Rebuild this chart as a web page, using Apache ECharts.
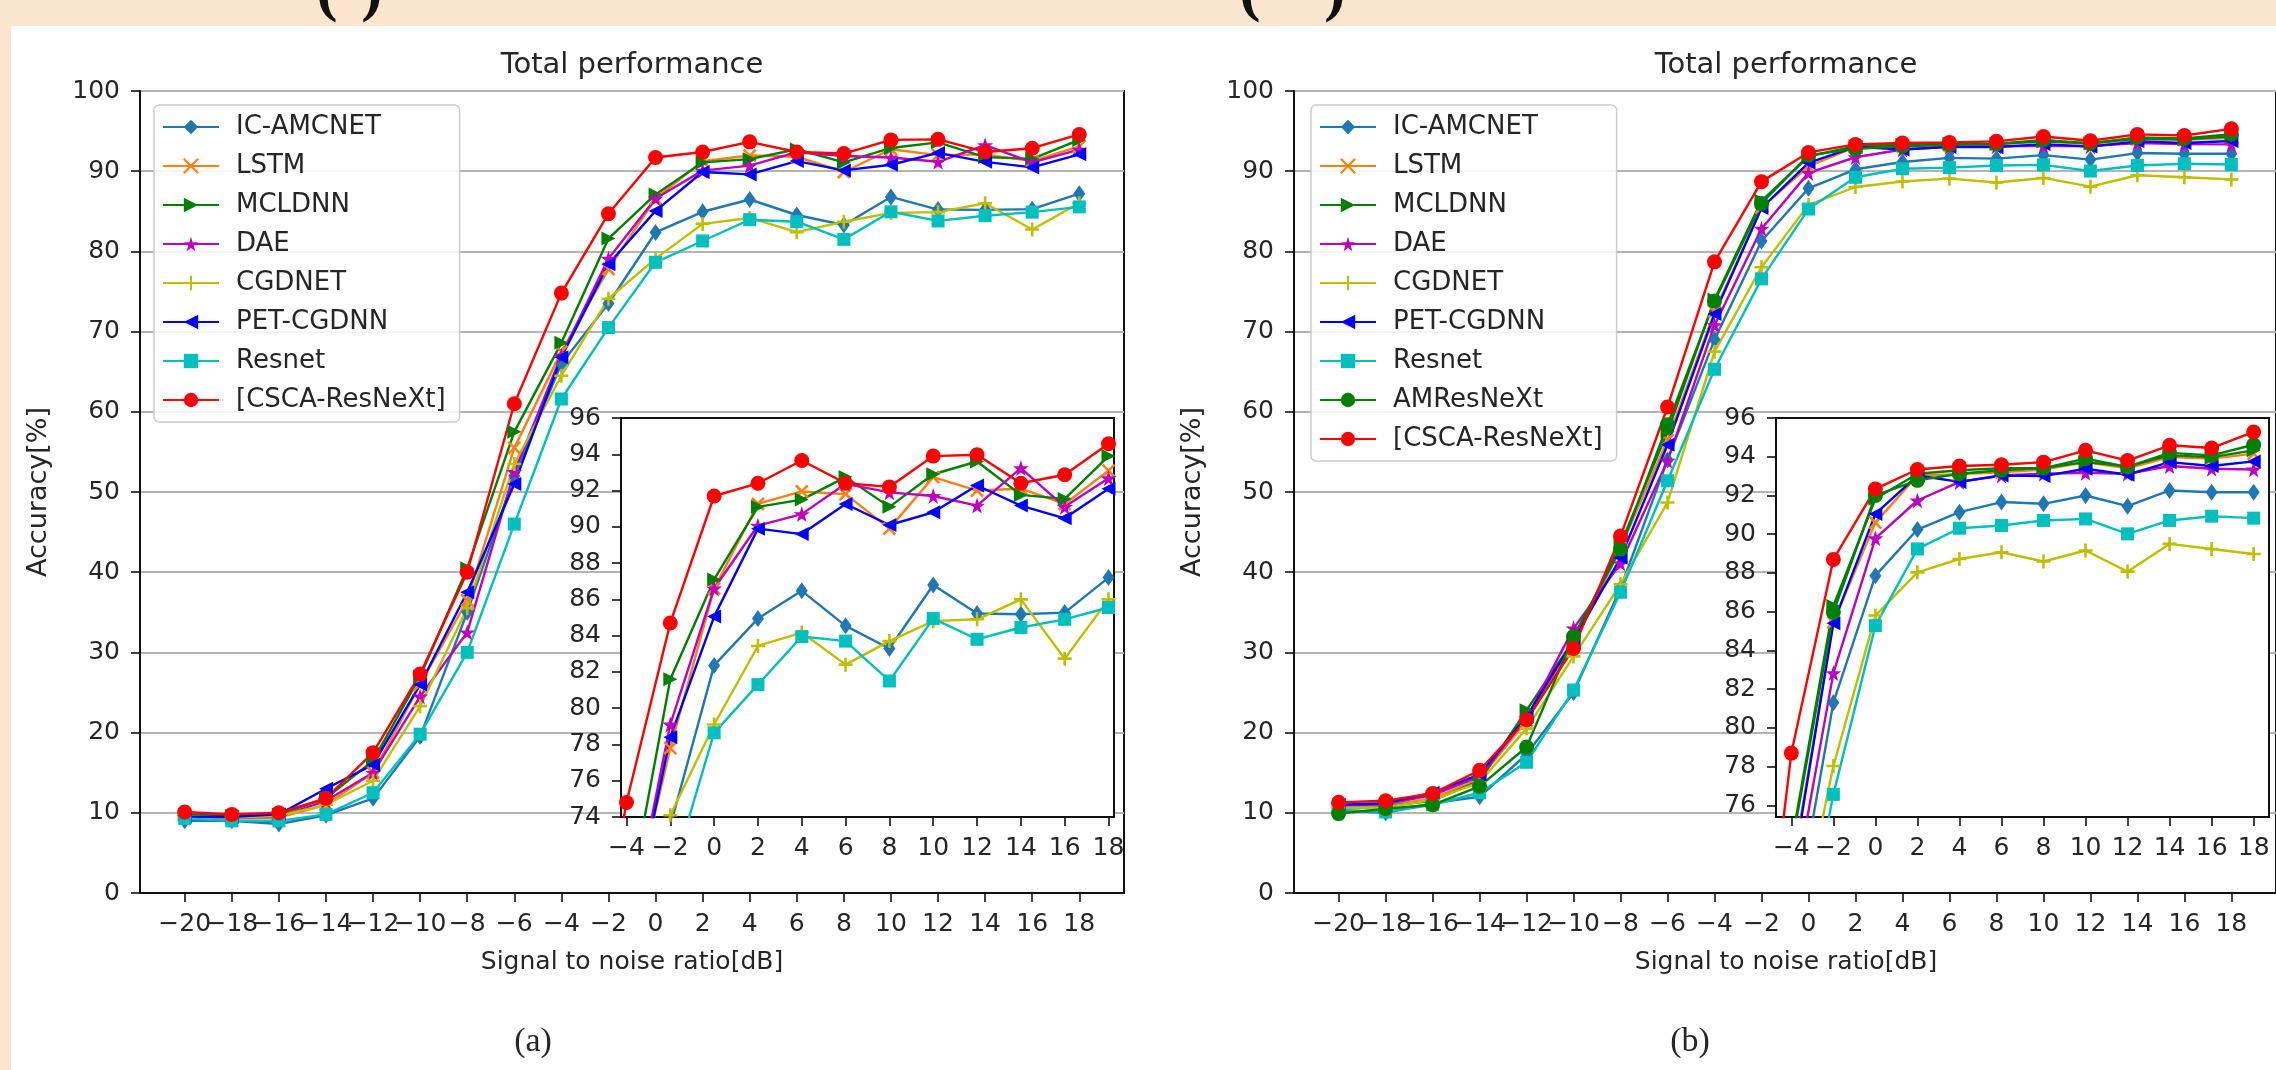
<!DOCTYPE html>
<html>
<head>
<meta charset="utf-8">
<script src="https://cdn.jsdelivr.net/npm/echarts@6/dist/echarts.min.js"></script>
<style>
  html, body { margin: 0; padding: 0; background: #fff; }
  #main { width: 2276px; height: 1070px; }
</style>
</head>
<body>
<div id="main"></div>
<script>
// 横轴：信噪比
const snr = [-20, -18, -16, -14, -12, -10, -8, -6, -4, -2, 0, 2, 4, 6, 8, 10, 12, 14, 16, 18];
const insetSnrTicks = [-4, -2, 0, 2, 4, 6, 8, 10, 12, 14, 16, 18];
const insetYTicksA = [74, 76, 78, 80, 82, 84, 86, 88, 90, 92, 94, 96];
const insetYTicksB = [76, 78, 80, 82, 84, 86, 88, 90, 92, 94, 96];

// (a) 各模型准确率
const icAmcnetA = [9.0, 9.0, 8.6, 9.7, 11.8, 19.5, 35.0, 52.0, 66.0, 73.5, 82.36, 84.94, 86.47, 84.54, 83.29, 86.79, 85.22, 85.18, 85.27, 87.2];
const lstmA     = [9.6, 9.3, 9.4, 11.0, 15.0, 26.0, 36.5, 55.5, 67.5, 77.8, 86.6, 91.26, 91.95, 91.8, 89.9, 92.74, 92.0, 92.1, 91.26, 93.1];
const mcldnnA   = [9.8, 9.6, 9.8, 11.8, 16.5, 27.0, 40.5, 57.5, 68.6, 81.6, 87.1, 91.1, 91.5, 92.74, 91.1, 92.9, 93.6, 91.76, 91.54, 93.9];
const daeA      = [9.5, 9.4, 9.5, 11.5, 15.0, 24.5, 32.5, 52.5, 67.0, 79.1, 86.6, 90.07, 90.7, 92.37, 91.9, 91.7, 91.17, 93.24, 91.1, 92.68];
const cgdnetA   = [9.6, 9.4, 9.6, 11.0, 14.0, 23.3, 35.5, 53.5, 64.5, 74.1, 79.1, 83.43, 84.17, 82.4, 83.7, 84.8, 84.9, 86.0, 82.73, 86.0];
const petA      = [9.5, 9.5, 9.8, 13.0, 16.0, 26.0, 37.5, 51.0, 66.8, 78.4, 85.05, 89.9, 89.6, 91.26, 90.1, 90.8, 92.28, 91.17, 90.47, 92.1];
const resnetA   = [9.3, 9.0, 9.0, 9.8, 12.5, 19.8, 30.0, 46.0, 61.6, 70.5, 78.64, 81.3, 83.95, 83.7, 81.5, 84.94, 83.8, 84.45, 84.9, 85.55];
const cscaA     = [10.1, 9.8, 10.0, 11.8, 17.5, 27.3, 40.0, 61.0, 74.8, 84.7, 91.7, 92.4, 93.66, 92.4, 92.2, 93.9, 93.97, 92.4, 92.87, 94.58];

// (b) 各模型准确率
const icAmcnetB = [10.3, 10.0, 11.2, 12.0, 17.3, 25.0, 38.0, 54.0, 69.0, 81.3, 87.86, 90.24, 91.14, 91.66, 91.57, 92.0, 91.45, 92.26, 92.17, 92.17];
const lstmB     = [10.8, 10.9, 11.8, 14.2, 21.5, 31.0, 43.0, 56.5, 72.5, 85.45, 90.6, 93.03, 93.1, 93.2, 93.34, 93.72, 93.4, 93.98, 93.9, 94.16];
const mcldnnB   = [10.5, 10.8, 11.5, 14.0, 22.8, 31.5, 43.5, 57.5, 74.0, 86.3, 91.83, 93.12, 93.3, 93.41, 93.41, 93.72, 93.5, 94.07, 93.98, 94.33];
const daeB      = [10.9, 11.1, 12.2, 14.5, 21.8, 33.0, 41.1, 53.9, 70.8, 82.83, 89.79, 91.74, 92.7, 93.03, 93.12, 93.17, 93.12, 93.52, 93.38, 93.34];
const cgdnetB   = [10.6, 10.7, 11.6, 13.8, 20.5, 29.5, 38.5, 48.7, 67.5, 78.03, 85.8, 88.03, 88.72, 89.07, 88.59, 89.16, 88.07, 89.5, 89.24, 88.98];
const petB      = [11.0, 11.2, 12.5, 14.8, 22.0, 31.5, 41.8, 55.9, 72.2, 85.4, 91.05, 93.03, 92.7, 93.03, 93.0, 93.38, 93.07, 93.72, 93.52, 93.76];
const resnetB   = [10.4, 10.1, 11.0, 12.5, 16.3, 25.3, 37.5, 51.4, 65.3, 76.57, 85.28, 89.24, 90.31, 90.45, 90.71, 90.79, 90.02, 90.71, 90.93, 90.83];
const amresB    = [9.9, 10.5, 11.0, 13.3, 18.2, 32.0, 42.9, 58.4, 73.8, 85.97, 92.0, 92.78, 93.12, 93.3, 93.41, 93.9, 93.47, 94.2, 94.07, 94.62];
const cscaB     = [11.3, 11.5, 12.4, 15.3, 21.6, 30.5, 44.5, 60.6, 78.7, 88.7, 92.34, 93.34, 93.52, 93.59, 93.72, 94.33, 93.8, 94.59, 94.45, 95.28];

const FONT = 'DejaVu Sans';
const TXT = '#262626';

// 线型/标记（仿 matplotlib）
const styles = {
  'IC-AMCNET': { color: '#1f77b4', symbol: 'path://M50,0 L92,50 L50,100 L8,50 Z', size: [12, 17] },
  'LSTM': { color: '#ff7f0e', symbol: 'path://M0,0 L100,100 M100,0 L0,100', size: 12, stroke: true },
  'MCLDNN': { color: '#008000', symbol: 'path://M0,0 L100,50 L0,100 Z', size: 14 },
  'DAE': { color: '#bf00bf', symbol: 'path://M50,0 L61,35 L98,35 L68,57 L79,92 L50,71 L21,92 L32,57 L2,35 L39,35 Z', size: 16 },
  'CGDNET': { color: '#bfbf00', symbol: 'path://M50,0 L50,100 M0,50 L100,50', size: 14, stroke: true },
  'PET-CGDNN': { color: '#0000ff', symbol: 'path://M100,0 L0,50 L100,100 Z', size: 14 },
  'Resnet': { color: '#00bfbf', symbol: 'rect', size: 13 },
  'AMResNeXt': { color: '#008000', symbol: 'circle', size: 15 },
  '[CSCA-ResNeXt]': { color: '#ff0000', symbol: 'circle', size: 15 }
};

const panelA = [
  ['IC-AMCNET', icAmcnetA], ['LSTM', lstmA], ['MCLDNN', mcldnnA], ['DAE', daeA],
  ['CGDNET', cgdnetA], ['PET-CGDNN', petA], ['Resnet', resnetA], ['[CSCA-ResNeXt]', cscaA]
];
const panelB = [
  ['IC-AMCNET', icAmcnetB], ['LSTM', lstmB], ['MCLDNN', mcldnnB], ['DAE', daeB],
  ['CGDNET', cgdnetB], ['PET-CGDNN', petB], ['Resnet', resnetB], ['AMResNeXt', amresB],
  ['[CSCA-ResNeXt]', cscaB]
];

const fmt = v => String(v).replace('-', '\u2212');

// 主图刻度标签拆成两组交替显示，避免 ECharts 因重叠而隐藏
const snrEven = snr.filter((v, i) => i % 2 === 0);
const snrOdd = snr.filter((v, i) => i % 2 === 1);

function lineSeries(name, vals, axisIndex, z) {
  const st = styles[name];
  return {
    name: name, type: 'line', xAxisIndex: axisIndex, yAxisIndex: axisIndex, z: z,
    data: snr.map((x, i) => [x, vals[i]]),
    symbol: st.symbol, symbolSize: st.size,
    lineStyle: { color: st.color, width: 2.4 },
    itemStyle: { color: st.color, borderColor: st.color, borderWidth: st.stroke ? 2.6 : 0 },
    emphasis: { disabled: true },
    clip: true
  };
}

function xAxisOf(gi, min, max, ticks, labels, z, margin) {
  return {
    type: 'value', gridIndex: gi, min: min, max: max, z: z, position: 'bottom',
    axisLine: { show: true, onZero: false, lineStyle: { color: '#111', width: 2 } },
    axisTick: { show: true, length: 9, customValues: ticks, lineStyle: { color: '#111', width: 1.6 } },
    axisLabel: {
      customValues: labels, formatter: fmt, margin: margin, fontSize: 25, color: TXT, fontFamily: FONT,
      showMinLabel: true, showMaxLabel: true, hideOverlap: false
    },
    splitLine: { show: false }
  };
}

// 只画标签的辅助横轴
function xLabelAxis(gi, min, max, labels, margin) {
  return {
    type: 'value', gridIndex: gi, min: min, max: max, position: 'bottom', offset: 0,
    axisLine: { show: false, onZero: false },
    axisTick: { show: false },
    axisLabel: {
      customValues: labels, formatter: fmt, margin: margin, fontSize: 25, color: TXT, fontFamily: FONT,
      showMinLabel: true, showMaxLabel: true, hideOverlap: false
    },
    splitLine: { show: false }
  };
}

function yAxisOf(gi, min, max, ticks, z, grid) {
  return {
    type: 'value', gridIndex: gi, min: min, max: max, z: z,
    axisLine: { show: true, onZero: false, lineStyle: { color: '#111', width: 2 } },
    axisTick: { show: true, length: 9, customValues: ticks, lineStyle: { color: '#111', width: 1.6 } },
    axisLabel: {
      customValues: ticks, margin: 20, fontSize: 25, color: TXT, fontFamily: FONT,
      showMinLabel: true, showMaxLabel: true
    },
    splitLine: { show: grid, lineStyle: { color: '#b4b4b4', width: 2 } }
  };
}

function legendOf(left, list) {
  return {
    data: list.map(d => d[0]), orient: 'vertical', left: left, top: 105,
    padding: [9, 14, 9, 8], itemWidth: 56, itemHeight: 18, itemGap: 13,
    backgroundColor: 'rgba(255,255,255,0.85)', borderColor: '#cccccc', borderWidth: 1.5, borderRadius: 5,
    textStyle: { fontSize: 26, color: TXT, fontFamily: FONT, padding: [0, 0, 0, 12], lineHeight: 25 },
    selectedMode: false, z: 6
  };
}

const mainY = [0, 10, 20, 30, 40, 50, 60, 70, 80, 90, 100];
const gridBox = { show: true, borderColor: '#111', borderWidth: 2 };

const series = [];
panelA.forEach(d => series.push(lineSeries(d[0], d[1], 0, 2)));
panelA.forEach(d => series.push(lineSeries(d[0], d[1], 1, 12)));
panelB.forEach(d => series.push(lineSeries(d[0], d[1], 2, 2)));
panelB.forEach(d => series.push(lineSeries(d[0], d[1], 3, 12)));

function txt(x, y, text, font, extra) {
  return Object.assign({
    type: 'text', x: x, y: y, silent: true,
    style: { text: text, font: font, fill: TXT, textAlign: 'center', textVerticalAlign: 'middle' }
  }, extra || {});
}

// 顶部被裁掉的大号括号
function paren(x, ch) {
  return {
    type: 'text', x: x, y: 24, silent: true,
    style: { text: ch, font: 'bold 64px "Liberation Serif"', fill: '#111', textAlign: 'center', textVerticalAlign: 'bottom' }
  };
}

const peach = '#fce5cf';

const option = {
  animation: false,
  backgroundColor: '#fff',
  grid: [
    Object.assign({ left: 140, top: 91, width: 984, height: 802, backgroundColor: 'transparent' }, gridBox),
    Object.assign({ left: 621, top: 418, width: 493, height: 399, backgroundColor: '#fff', z: 10 }, gridBox),
    Object.assign({ left: 1294, top: 91, width: 984, height: 802, backgroundColor: 'transparent' }, gridBox),
    Object.assign({ left: 1776, top: 418, width: 493, height: 399, backgroundColor: '#fff', z: 10 }, gridBox)
  ],
  xAxis: [
    xAxisOf(0, -21.9, 19.9, snr, snrEven, 0, 19),
    xAxisOf(1, -4.25, 18.25, insetSnrTicks, insetSnrTicks, 11, 19),
    xAxisOf(2, -21.9, 19.9, snr, snrEven, 0, 19),
    xAxisOf(3, -4.73, 18.73, insetSnrTicks, insetSnrTicks, 11, 19),
    xLabelAxis(0, -21.9, 19.9, snrOdd, 19),
    xLabelAxis(2, -21.9, 19.9, snrOdd, 19)
  ],
  yAxis: [
    yAxisOf(0, 0, 100, mainY, 0, true),
    yAxisOf(1, 74, 96, insetYTicksA, 11, false),
    yAxisOf(2, 0, 100, mainY, 0, true),
    yAxisOf(3, 75.4, 96, insetYTicksB, 11, false)
  ],
  legend: [legendOf(154, panelA), legendOf(1311, panelB)],
  series: series,
  graphic: [
    { type: 'rect', silent: true, z: 0, shape: { x: 0, y: 0, width: 2276, height: 26 }, style: { fill: peach } },
    { type: 'rect', silent: true, z: 0, shape: { x: 0, y: 0, width: 11, height: 1070 }, style: { fill: peach } },
    paren(327, '('), paren(372, ')'), paren(1250, '('), paren(1335, ')'),
    txt(632, 65, 'Total performance', '29px "DejaVu Sans"'),
    txt(1786, 65, 'Total performance', '29px "DejaVu Sans"'),
    txt(632, 962, 'Signal to noise ratio[dB]', '25px "DejaVu Sans"'),
    txt(1786, 962, 'Signal to noise ratio[dB]', '25px "DejaVu Sans"'),
    txt(39, 492, 'Accuracy[%]', '27px "DejaVu Sans"', { rotation: Math.PI / 2 }),
    txt(1193, 492, 'Accuracy[%]', '27px "DejaVu Sans"', { rotation: Math.PI / 2 }),
    txt(533, 1042, '(a)', '34px "Liberation Serif"'),
    txt(1690, 1042, '(b)', '34px "Liberation Serif"')
  ]
};

const chart = echarts.init(document.getElementById('main'));
chart.setOption(option);
</script>
</body>
</html>
